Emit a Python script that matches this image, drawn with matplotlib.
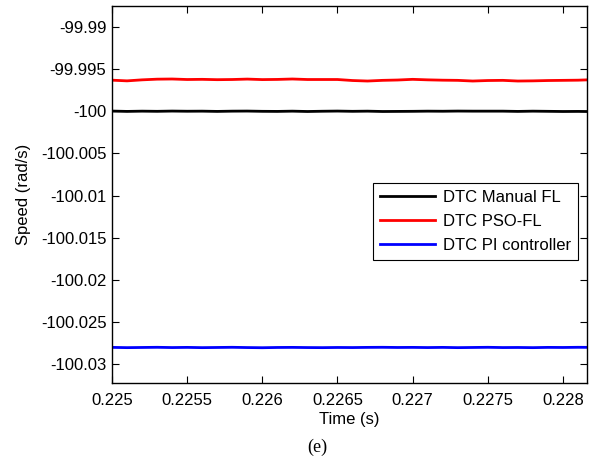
import numpy as np
import matplotlib.pyplot as plt

plt.rcParams['font.family'] = ['Liberation Sans', 'DejaVu Sans']

# time samples (s)
t = [0.2250, 0.2251, 0.2252, 0.2253, 0.2254, 0.2255, 0.2256, 0.2257, 0.2258,
     0.2259, 0.2260, 0.2261, 0.2262, 0.2263, 0.2264, 0.2265, 0.2266, 0.2267,
     0.2268, 0.2269, 0.2270, 0.2271, 0.2272, 0.2273, 0.2274, 0.2275, 0.2276,
     0.2277, 0.2278, 0.2279, 0.2280, 0.2281, 0.2282]

# speed values (rad/s)
manual_fl = [-99.99998, -100.00002, -99.99999, -100.00001, -99.99998, -100.00000,
             -99.99999, -100.00002, -99.99999, -99.99998, -100.00001, -100.00002,
             -99.99999, -100.00003, -100.00000, -99.99998, -100.00001, -99.99999,
             -100.00003, -100.00002, -100.00001, -99.99999, -100.00000, -99.99998,
             -99.99999, -99.99999, -99.99999, -100.00002, -99.99999, -100.00001,
             -100.00003, -100.00002, -100.00004]
pso_fl = [-99.99632, -99.99640, -99.99628, -99.99620, -99.99618, -99.99624,
          -99.99622, -99.99626, -99.99624, -99.99619, -99.99625, -99.99623,
          -99.99618, -99.99624, -99.99624, -99.99624, -99.99636, -99.99642,
          -99.99634, -99.99630, -99.99622, -99.99628, -99.99632, -99.99634,
          -99.99642, -99.99636, -99.99634, -99.99642, -99.99640, -99.99636,
          -99.99634, -99.99632, -99.99626]
pi_ctrl = [-100.02798, -100.02801, -100.02799, -100.02797, -100.02800, -100.02798,
           -100.02801, -100.02799, -100.02797, -100.02800, -100.02802, -100.02799,
           -100.02798, -100.02800, -100.02801, -100.02799, -100.02800, -100.02798,
           -100.02797, -100.02799, -100.02798, -100.02800, -100.02798, -100.02801,
           -100.02799, -100.02797, -100.02800, -100.02799, -100.02801, -100.02798,
           -100.02799, -100.02797, -100.02798]

labels = ['DTC Manual FL', 'DTC PSO-FL', 'DTC PI controller']
xticks = [0.225, 0.2255, 0.226, 0.2265, 0.227, 0.2275, 0.228]
yticks = [-99.99, -99.995, -100, -100.005, -100.01, -100.015, -100.02, -100.025, -100.03]

fig = plt.figure(figsize=(5.92, 4.59), dpi=100)
ax = fig.add_axes([112/592, 1 - 383/459, 475/592, 377/459])

ax.plot(t, manual_fl, color='black', lw=2, label=labels[0])
ax.plot(t, pso_fl, color='red', lw=2, label=labels[1])
ax.plot(t, pi_ctrl, color='blue', lw=2, label=labels[2])

ax.set_xlim(0.225, 0.22816)
ax.set_ylim(-100.0322, -99.98753)
ax.set_xticks(xticks)
ax.set_xticklabels([str(x) for x in xticks])
ax.set_yticks(yticks)
ax.set_yticklabels([str(y) for y in yticks])
ax.tick_params(direction='in', top=True, right=True, labelsize=12, length=5)
ax.tick_params(axis='x', pad=7)
ax.tick_params(axis='y', pad=4)
for s in ax.spines.values():
    s.set_linewidth(1.0)

ax.set_xlabel('Time (s)', fontsize=12, labelpad=3)
ax.set_ylabel('Speed (rad/s)', fontsize=12, labelpad=7)

leg = ax.legend(loc='upper left', bbox_to_anchor=(261/475, 1 - 177/377),
                borderaxespad=0, fontsize=12, fancybox=False,
                edgecolor='black', framealpha=1, handlelength=3.3,
                borderpad=0.4, labelspacing=0.55, handletextpad=0.5)
leg.get_frame().set_linewidth(0.8)

fig.text(317/592, 1 - 447/459, '(e)', family='Liberation Serif', fontsize=13,
         ha='center', va='center')

fig.savefig('out.png', dpi=100)
